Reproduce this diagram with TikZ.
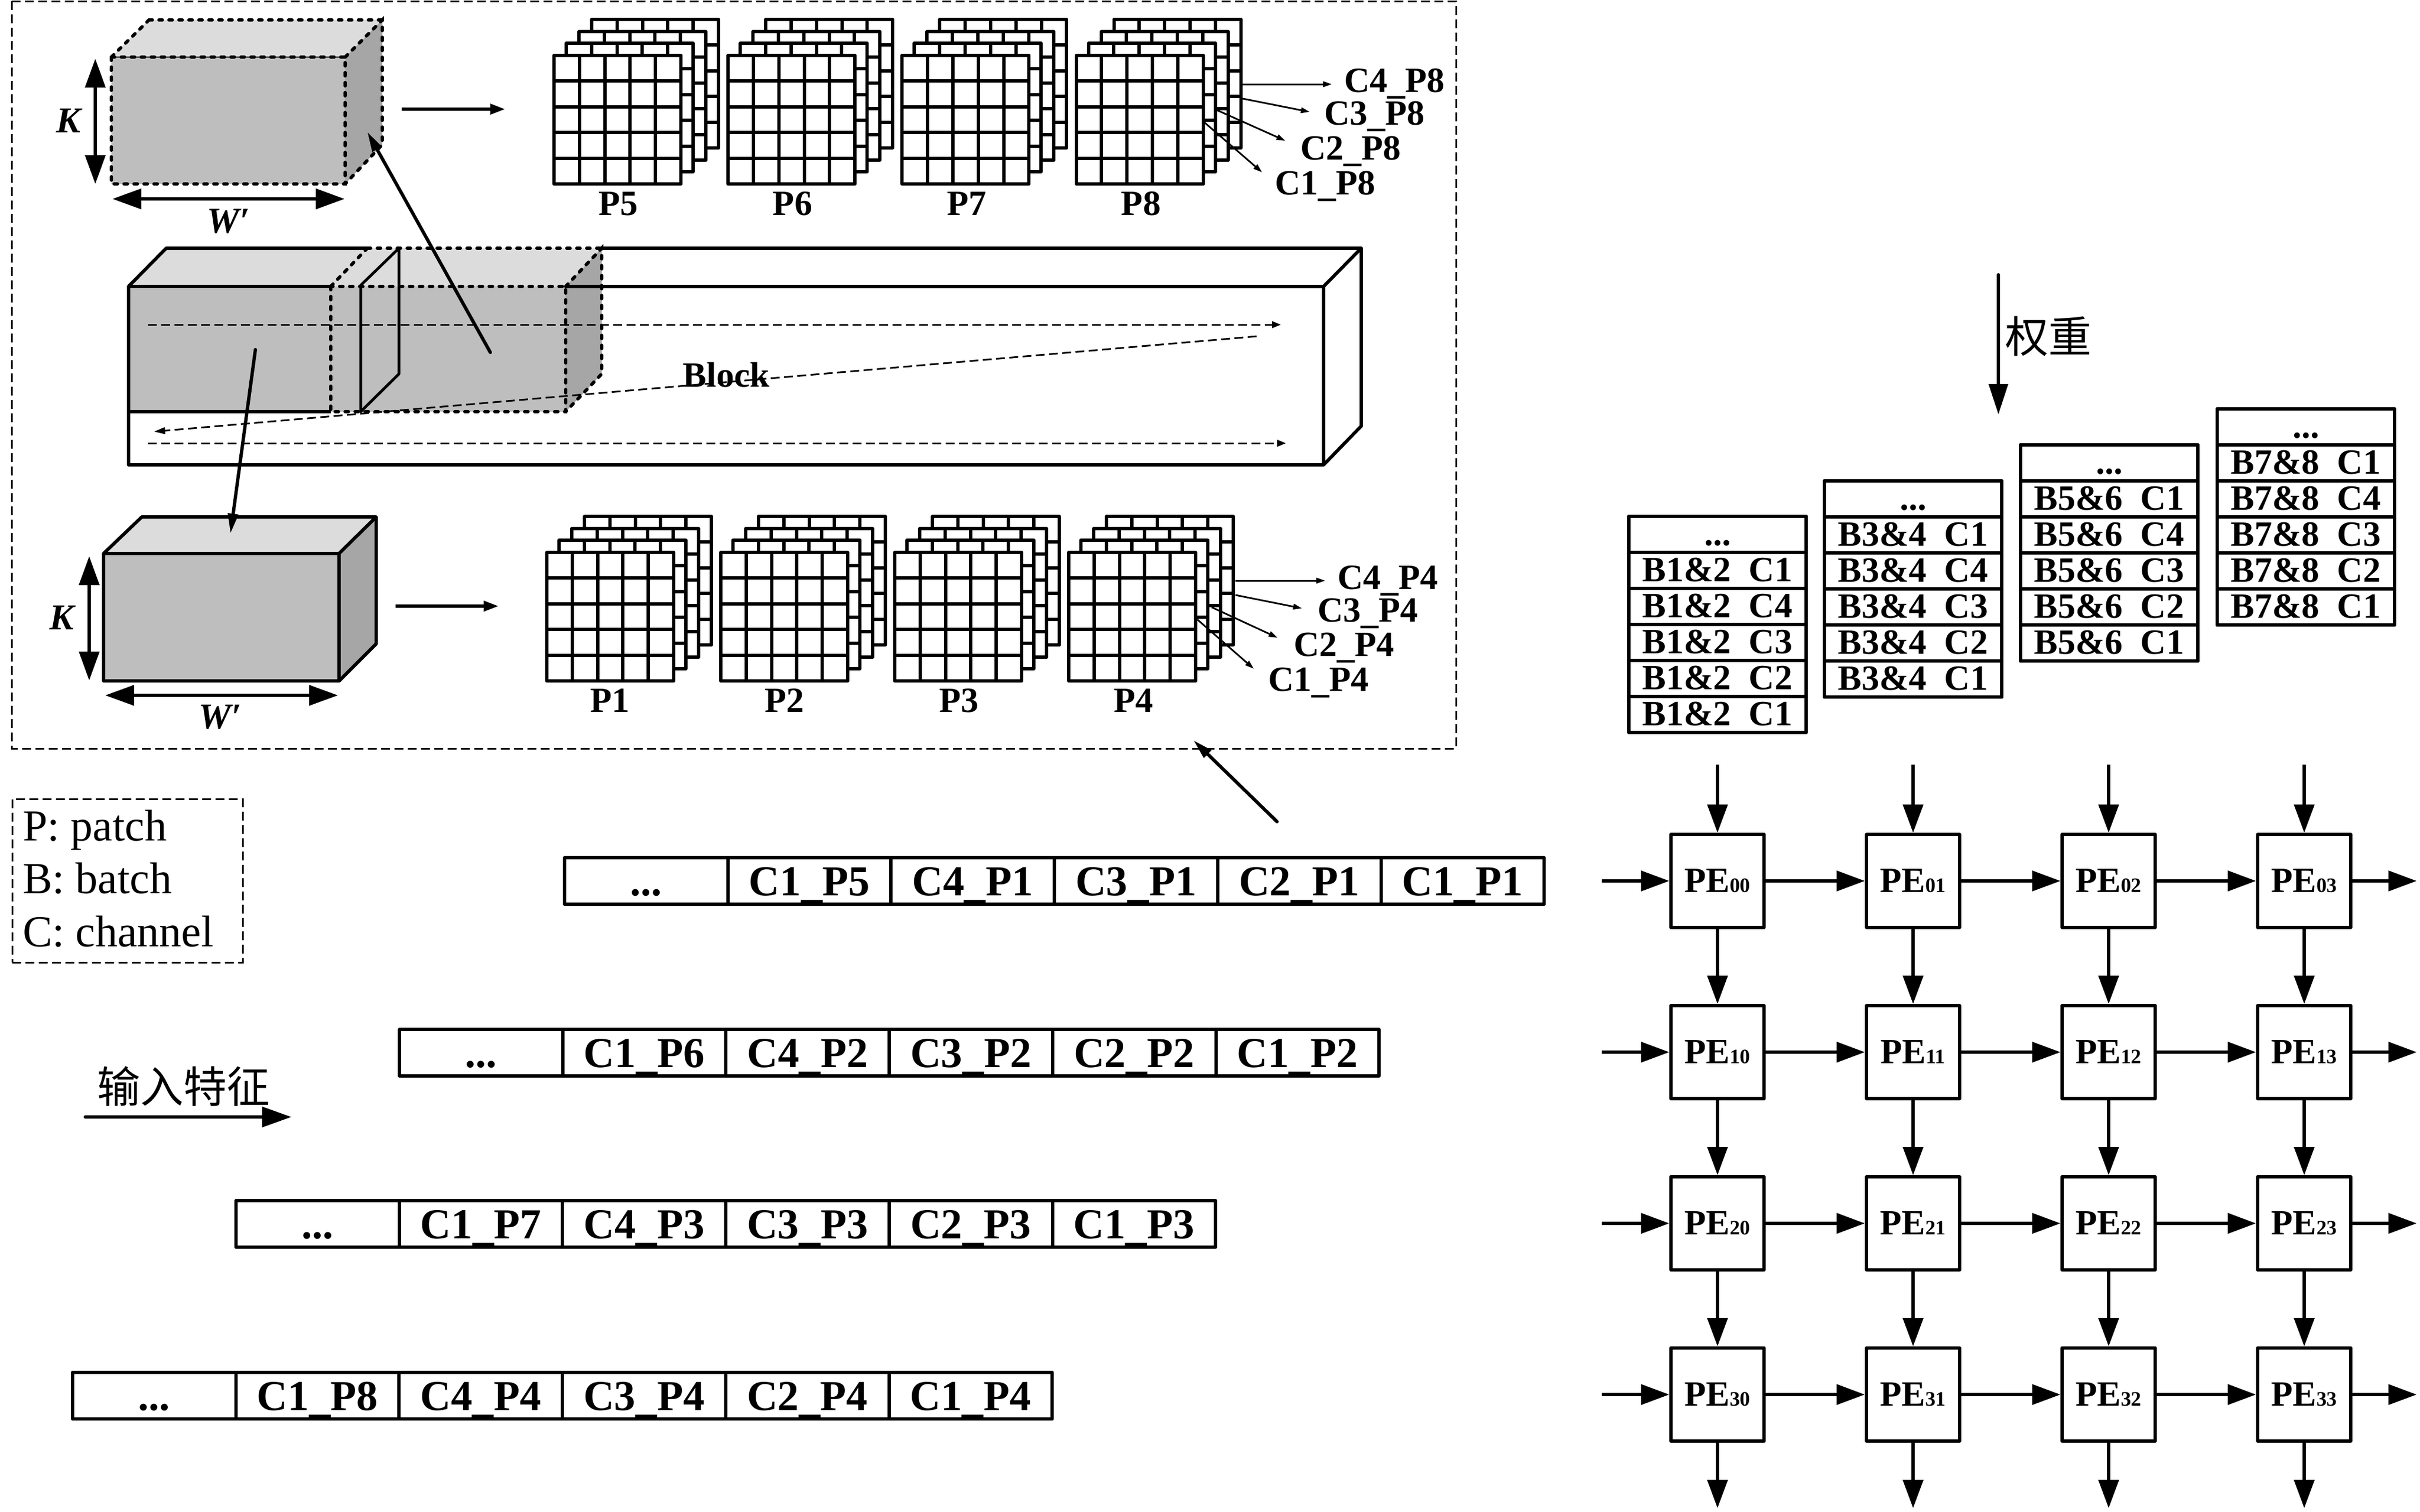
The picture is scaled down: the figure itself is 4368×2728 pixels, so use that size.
\documentclass[tikz,border=0pt]{standalone}
\usepackage{fontspec}
\setmainfont{Liberation Serif}
\newfontfamily\cjkfont{Noto Sans CJK SC}
\usetikzlibrary{arrows.meta}
\newcommand{\fsz}[1]{\fontsize{#1}{#1}\selectfont}
\newcommand{\usc}{\raisebox{-3pt}{\_}}
\newcommand{\uscl}{\raisebox{-7pt}{\_}}
\tikzset{
  ln/.style={line width=6pt,line join=round},
  big/.style={ln,-{Triangle[length=51pt,width=36pt]}},
  med/.style={ln,-{Triangle[length=27pt,width=18pt]}},
  dbl/.style={ln,{Triangle[length=52pt,width=36pt]}-{Triangle[length=52pt,width=36pt]}},
  slim/.style={line width=3pt,-{Triangle[length=16pt,width=10pt]}},
  longarr/.style={line width=6pt,line cap=round,-{Triangle[length=36pt,width=18pt]}},
  dashthin/.style={line width=3pt,dash pattern=on 16pt off 8pt},
  dotln/.style={line width=6pt,line cap=round,dash pattern=on 6pt off 12pt},
  bt/.style={font=\fsz{64}\bfseries,inner sep=0pt,text height=42pt,text depth=0pt},
  it/.style={font=\fsz{66}\bfseries\itshape,inner sep=0pt},
  rowcell/.style={draw,ln,fill=white,anchor=north west,minimum width=294.7pt,minimum height=84pt,inner sep=0pt,outer sep=0pt,
     font=\fsz{77}\bfseries,text height=52pt,text depth=0pt},
  stackcell/.style={draw,ln,fill=white,anchor=north west,minimum width=320pt,minimum height=65pt,inner sep=0pt,outer sep=0pt,
     font=\fsz{64}\bfseries,text height=39pt,text depth=0pt},
  pebox/.style={draw,ln,fill=white,minimum width=168pt,minimum height=168pt,inner sep=0pt,
     font=\fsz{64}\bfseries},
  legendtext/.style={font=\fsz{80},inner sep=0pt,anchor=base west},
}
\definecolor{gfront}{HTML}{BEBEBE}
\definecolor{gtop}{HTML}{DCDCDC}
\definecolor{gside}{HTML}{A6A6A6}
% one layer of a patch: top-left corner #1,#2
\newcommand{\patchlayer}[2]{%
  \fill[white] (#1,#2) rectangle ({#1+229},{#2+232});
  \foreach \k in {1,...,4}{
    \draw[line width=6pt] ({#1+\k*45.8},#2) -- ({#1+\k*45.8},{#2+232});
    \draw[line width=6pt] (#1,{#2+\k*46.4}) -- ({#1+229},{#2+\k*46.4});
  }
  \draw[ln] (#1,#2) rectangle ({#1+229},{#2+232});
}
\newcommand{\patchstack}[2]{%
  \patchlayer{#1+68}{#2-65}
  \patchlayer{#1+45}{#2-43}
  \patchlayer{#1+22}{#2-22}
  \patchlayer{#1}{#2}
}
\begin{document}
\begin{tikzpicture}[x=1pt,y=-1pt]
\useasboundingbox[fill=white] (0,0) rectangle (4368,2728);

% outer frame
\draw[dashthin] (21,2) rectangle (2628,1351);

% ---- top cube
\fill[gfront] (201,103) rectangle (623,332);
\fill[gtop] (201,103) -- (269,36) -- (690,36) -- (623,103) -- cycle;
\fill[gside] (623,103) -- (690,36) -- (690,261) -- (623,332) -- cycle;
\draw[line width=2pt] (201,103) -- (623,103);
\draw[dotln] (201,103) rectangle (623,332);
\draw[dotln] (269,36) -- (690,36);
\draw[dotln] (201,103) -- (269,36) (623,103) -- (690,36) -- (690,261) -- (623,332);
\draw[dbl] (172,106) -- (172,332);
\draw[dbl] (203,359) -- (622,359);
\node[it] (k1) at (124,218) {K};
\node[it] (w1) at (412,399) {W′};
\draw[med] (725,197) -- (912,197);

% ---- block
\fill[gfront] (232,517) rectangle (1021,743);
\fill[gtop] (232,517) -- (300,448) -- (1086,448) -- (1021,517) -- cycle;
\fill[gside] (1021,517) -- (1086,448) -- (1086,675) -- (1021,743) -- cycle;
\draw[ln] (663,448) -- (300,448) -- (232,517) -- (232,839) -- (2389,839) -- (2389,517) -- (1021,517);
\draw[ln] (1086,448) -- (2457,448) -- (2457,769) -- (2389,839);
\draw[ln] (2389,517) -- (2457,448);
\draw[ln] (232,517) -- (597,517);
\draw[ln] (232,743) -- (597,743);
\draw[line width=5pt,line join=round] (651,743) -- (651,515) -- (720,448) -- (720,675) -- cycle;
\draw[dotln] (597,517) rectangle (1021,743);
\draw[dotln] (663,448) -- (1086,448);
\draw[dotln] (597,517) -- (663,448) (1021,517) -- (1086,448) -- (1086,675) -- (1021,743);
\draw[dashthin,-{Triangle[length=16pt,width=12pt]}] (267,586) -- (2312,586);
\draw[dashthin,-{Triangle[length=16pt,width=12pt]}] (267,800) -- (2321,800);
\draw[dashthin,-{Triangle[length=20pt,width=12pt]}] (2268,607) -- (278,779);
\node[bt] (block) at (1311,677) {Block};

% ---- bottom cube
\fill[gfront] (187,999) rectangle (612,1229);
\fill[gtop] (187,999) -- (256,933) -- (679,933) -- (612,999) -- cycle;
\fill[gside] (612,999) -- (679,933) -- (679,1162) -- (612,1229) -- cycle;
\draw[ln] (187,999) rectangle (612,1229);
\draw[ln] (187,999) -- (256,933) -- (679,933) -- (612,999);
\draw[ln] (679,933) -- (679,1162) -- (612,1229);
\draw[dbl] (161,1004) -- (161,1228);
\draw[dbl] (190,1255) -- (610,1255);
\node[it] (k2) at (112,1115) {K};
\node[it] (w2) at (397,1294) {W′};
\draw[med] (714,1094) -- (900,1094);

% arrows between block and cubes
\draw[longarr] (885,636) -- (663,238);
\draw[longarr] (461,631) -- (416,963);

% ---- patch stacks
\foreach \i/\n in {0/5,1/6,2/7,3/8}{
  \patchstack{1000+\i*314.2}{100}
  \node[bt] (p\n) at ({1116+\i*314.5},367) {P\n};
}
\foreach \i/\n in {0/1,1/2,2/3,3/4}{
  \patchstack{987+\i*314}{997}
  \node[bt] (p\n) at ({1101+\i*315},1264) {P\n};
}

% channel labels
\node[bt] (c4p8) at (2517,145) {C4\usc P8};
\node[bt] (c3p8) at (2481,204) {C3\usc P8};
\node[bt] (c2p8) at (2438,267) {C2\usc P8};
\node[bt] (c1p8) at (2392,330) {C1\usc P8};
\draw[slim] (2243,152) -- (2404,152);
\draw[slim] (2243,178) -- (2364,202);
\draw[slim] (2197,199) -- (2320,254);
\draw[slim] (2174,221) -- (2278,311);
\node[bt] (c4p4) at (2505,1042) {C4\usc P4};
\node[bt] (c3p4) at (2469,1101) {C3\usc P4};
\node[bt] (c2p4) at (2426,1163) {C2\usc P4};
\node[bt] (c1p4) at (2380,1226) {C1\usc P4};
\draw[slim] (2230,1048) -- (2392,1048);
\draw[slim] (2230,1074) -- (2350,1098);
\draw[slim] (2187,1096) -- (2306,1151);
\draw[slim] (2161,1118) -- (2263,1207);

% arrow to frame
\draw[longarr] (2305,1483) -- (2154,1336);

% legend
\node[draw,line width=3pt,dash pattern=on 16pt off 8pt,minimum width=416pt,minimum height=295pt,inner sep=0pt] (legend) at (230,1589.5) {};
\node[legendtext] (lp) at (41,1517) {P: patch};
\node[legendtext] (lb) at (41,1612) {B: batch};
\node[legendtext] (lc) at (41,1708) {C: channel};

% input feature
\node[font=\fsz{78}\cjkfont,inner sep=0pt] (inlab) at (331,1961) {输入特征};
\coordinate (ina) at (154,2016);
\coordinate (inb) at (526,2016);
\draw[ln,line cap=round,-{Triangle[length=53pt,width=36pt]}] (ina) -- (inb);

% data rows
\foreach \y/\x/\a/\b/\c/\d/\e in {
  1548/1019/C1\usc P5/C4\usc P1/C3\usc P1/C2\usc P1/C1\usc P1,
  1858/721/C1\usc P6/C4\usc P2/C3\usc P2/C2\usc P2/C1\usc P2,
  2167/426/C1\usc P7/C4\usc P3/C3\usc P3/C2\usc P3/C1\usc P3,
  2477/131/C1\usc P8/C4\usc P4/C3\usc P4/C2\usc P4/C1\usc P4}{
  \node[rowcell] (r\y c0) at (\x,\y) {...};
  \node[rowcell] (r\y c1) at ({\x+294.7},\y) {\a};
  \node[rowcell] (r\y c2) at ({\x+589.4},\y) {\b};
  \node[rowcell] (r\y c3) at ({\x+884.1},\y) {\c};
  \node[rowcell] (r\y c4) at ({\x+1178.8},\y) {\d};
  \node[rowcell] (r\y c5) at ({\x+1473.5},\y) {\e};
}

% weight label
\node[font=\fsz{78}\cjkfont,inner sep=0pt] (wlab) at (3697,607) {权重};
\coordinate (wa) at (3607,496);
\coordinate (wb) at (3607,748);
\draw[ln,line cap=round,-{Triangle[length=55pt,width=34pt]}] (wa) -- (wb);

% weight stacks
\foreach \s/\x/\y/\lab in {1/2940/932/B1\&2,2/3293/868/B3\&4,3/3647/803/B5\&6,4/4002/738/B7\&8}{
  \node[stackcell] (s\s r0) at (\x,\y) {...};
  \foreach \i/\t in {1/C1,2/C4,3/C3,4/C2,5/C1}{
    \node[stackcell] (s\s r\i) at (\x,{\y+\i*65}) {\lab\uscl\t};
  }
  \draw[ln] (\x,\y) rectangle ({\x+320},{\y+390});
}

% PE array
\foreach \r in {0,...,3}{
  \foreach \c in {0,...,3}{
    \node[pebox] (pe\r\c) at ({3100+\c*353},{1590+\r*309}) {PE{\fsz{37}\r\c}};
  }
  \coordinate (lft\r) at (2891,{1590+\r*309});
  \coordinate (rgt\r) at (4362,{1590+\r*309});
  \coordinate (top\r) at ({3100+\r*353},1380);
  \coordinate (bot\r) at ({3100+\r*353},2722);
}
\foreach \r in {0,...,3}{
  \draw[big] (lft\r) -- (pe\r0.west);
  \draw[big] (pe\r3.east) -- (rgt\r);
  \draw[big] (top\r) -- (pe0\r.north);
  \draw[big] (pe3\r.south) -- (bot\r);
  \foreach \c/\d in {0/1,1/2,2/3}{
    \draw[big] (pe\r\c.east) -- (pe\r\d.west);
    \draw[big] (pe\c\r.south) -- (pe\d\r.north);
  }
}
\end{tikzpicture}
\end{document}
